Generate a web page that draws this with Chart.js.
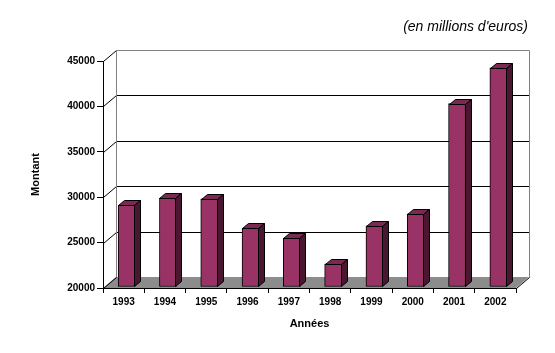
<!DOCTYPE html>
<html>
<head>
<meta charset="utf-8">
<title>Montant par année</title>
<script src="https://cdn.jsdelivr.net/npm/chart.js@4/dist/chart.umd.min.js"></script>
<style>
  body { margin: 0; background: #fff; }
  canvas { display: block; }
</style>
</head>
<body>
<canvas id="chart" width="555" height="353"></canvas>
<script>
const years = ["1993", "1994", "1995", "1996", "1997", "1998", "1999", "2000", "2001", "2002"];
const amounts = [29000, 29800, 29700, 26500, 25400, 22550, 26750, 28050, 40200, 44150];
const yTicks = [20000, 25000, 30000, 35000, 40000, 45000];

// 3D look (Excel style): depth of the box and of each bar
const WALL_DX = 13, WALL_DY = -11;
const BAR_DX = 6, BAR_DY = -5;
const BAR_SHIFT_X = 3, BAR_SHIFT_Y = -1;

Chart.defaults.font.family = "Arial, 'Liberation Sans', sans-serif";
Chart.defaults.color = "#000";

const boxPlugin = {
  id: "box3d",
  beforeDraw(chart) {
    const { ctx, chartArea: a, scales } = chart;
    const y = scales.y;
    ctx.save();

    // back wall
    ctx.fillStyle = "#fff";
    ctx.fillRect(a.left + WALL_DX, a.top + WALL_DY, a.right - a.left, a.bottom - a.top);

    // floor
    ctx.fillStyle = "#8c8c8c";
    ctx.beginPath();
    ctx.moveTo(a.left, a.bottom);
    ctx.lineTo(a.right, a.bottom);
    ctx.lineTo(a.right + WALL_DX, a.bottom + WALL_DY);
    ctx.lineTo(a.left + WALL_DX, a.bottom + WALL_DY);
    ctx.closePath();
    ctx.fill();

    ctx.lineWidth = 1;
    // gridlines on back wall + diagonals from the axis
    yTicks.forEach((v, i) => {
      const py = Math.round(y.getPixelForValue(v)) + 0.5;
      ctx.strokeStyle = "#000";
      ctx.beginPath();
      ctx.moveTo(a.left + 0.5, py);
      ctx.lineTo(a.left + WALL_DX + 0.5, py + WALL_DY);
      if (i > 0 && i < yTicks.length - 1) {
        ctx.lineTo(a.right + WALL_DX + 0.5, py + WALL_DY);
      }
      ctx.stroke();
    });

    // wall border (grey)
    ctx.strokeStyle = "#808080";
    ctx.beginPath();
    ctx.moveTo(a.left + WALL_DX + 0.5, a.bottom + WALL_DY);
    ctx.lineTo(a.left + WALL_DX + 0.5, a.top + WALL_DY + 0.5);
    ctx.lineTo(a.right + WALL_DX + 0.5, a.top + WALL_DY + 0.5);
    ctx.lineTo(a.right + WALL_DX + 0.5, a.bottom + WALL_DY + 0.5);
    ctx.stroke();

    // floor right edge
    ctx.strokeStyle = "#000";
    ctx.beginPath();
    ctx.moveTo(a.right + 0.5, a.bottom + 0.5);
    ctx.lineTo(a.right + WALL_DX + 0.5, a.bottom + WALL_DY + 0.5);
    ctx.stroke();
    ctx.restore();
  },
  beforeDatasetsDraw(chart) {
    chart.ctx.save();
    chart.ctx.translate(BAR_SHIFT_X, BAR_SHIFT_Y);
  },
  afterDatasetsDraw(chart) {
    const ctx = chart.ctx;
    ctx.lineWidth = 1;
    ctx.strokeStyle = "#000";
    chart.getDatasetMeta(0).data.forEach((bar) => {
      const { x, y, base, width } = bar.getProps(["x", "y", "base", "width"], true);
      const l = Math.round(x - width / 2) + 0.5;
      const r = Math.round(x + width / 2) - 0.5;
      const t = Math.round(y) + 0.5;
      const b = Math.round(base) - 0.5;

      // top face
      ctx.fillStyle = "#7a2a52";
      ctx.beginPath();
      ctx.moveTo(l, t);
      ctx.lineTo(l + BAR_DX, t + BAR_DY);
      ctx.lineTo(r + BAR_DX, t + BAR_DY);
      ctx.lineTo(r, t);
      ctx.closePath();
      ctx.fill();
      ctx.stroke();

      // side face
      ctx.fillStyle = "#4a1730";
      ctx.beginPath();
      ctx.moveTo(r, t);
      ctx.lineTo(r + BAR_DX, t + BAR_DY);
      ctx.lineTo(r + BAR_DX, b + BAR_DY);
      ctx.lineTo(r, b);
      ctx.closePath();
      ctx.fill();
      ctx.stroke();
    });
    ctx.restore();
  },
  afterDraw(chart) {
    const ctx = chart.ctx;
    ctx.save();
    ctx.font = "italic 14px Arial, 'Liberation Sans', sans-serif";
    ctx.fillStyle = "#000";
    ctx.textAlign = "right";
    ctx.textBaseline = "middle";
    ctx.fillText("(en millions d'euros)", 528, 27);
    ctx.restore();
  },
};

new Chart(document.getElementById("chart"), {
  type: "bar",
  data: {
    labels: years,
    datasets: [
      {
        label: "Montant",
        data: amounts,
        base: yTicks[0],
        backgroundColor: "#993366",
        borderColor: "#000",
        borderWidth: 1,
        borderSkipped: false,
        barThickness: 17,
        clip: false,
      },
    ],
  },
  options: {
    responsive: false,
    animation: false,
    layout: {
      padding: { top: 61, right: 39, bottom: 0, left: 0 },
    },
    plugins: {
      legend: { display: false },
      tooltip: { enabled: false },
    },
    scales: {
      x: {
        grid: {
          drawOnChartArea: false,
          tickLength: 5,
          tickColor: "#000",
        },
        border: { color: "#000" },
        ticks: {
          padding: 3,
          font: { size: 10, weight: "bold" },
        },
        title: {
          display: true,
          text: "Années",
          font: { size: 11, weight: "bold" },
          padding: { top: 0, bottom: 22 },
        },
        afterFit(scale) {
          scale.height = 65;
        },
      },
      y: {
        min: yTicks[0],
        max: yTicks[yTicks.length - 1],
        grid: {
          drawOnChartArea: false,
          tickLength: 6,
          tickColor: "#000",
        },
        border: { color: "#000" },
        ticks: {
          stepSize: yTicks[1] - yTicks[0],
          padding: 2,
          font: { size: 10, weight: "bold" },
          callback: (v) => String(v),
        },
        title: {
          display: true,
          text: "Montant",
          font: { size: 11, weight: "bold" },
          padding: { top: 29, bottom: 0 },
        },
        afterFit(scale) {
          scale.width = 103;
        },
      },
    },
  },
  plugins: [boxPlugin],
});
</script>
</body>
</html>
